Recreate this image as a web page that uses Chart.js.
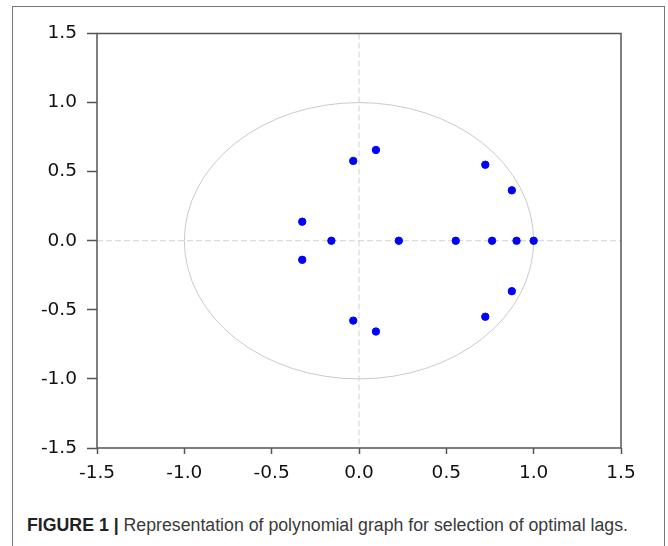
<!DOCTYPE html>
<html>
<head>
<meta charset="utf-8">
<script src="https://cdn.jsdelivr.net/npm/chart.js@4"></script>
<style>
  html, body { margin: 0; padding: 0; background: #fff; }
  body { width: 668px; height: 546px; position: relative; overflow: hidden; }
  #frame {
    position: absolute; left: 12px; top: 6px; width: 653px; height: 560px;
    border: 1.5px solid #777; box-sizing: border-box;
  }
  #wrap { position: absolute; left: 0; top: 0; width: 668px; height: 490px; }
  #caption {
    position: absolute; left: 27px; top: 514px; white-space: nowrap;
    font-family: "Liberation Sans Narrow", "Liberation Sans", Arial, sans-serif;
    font-size: 18px; line-height: 22px; color: #3a3a3a; transform-origin: 0 0;
  }
  #caption b { color: #222; }
</style>
</head>
<body>
<div id="frame"></div>
<div id="wrap"><canvas id="myChart"></canvas></div>
<div id="caption"><b>FIGURE 1 |</b> Representation of polynomial graph for selection of optimal lags.</div>

<script>
// roots of the characteristic polynomial (real part, imaginary part)
var rootRe = [0.097, 0.097, -0.033, -0.033, 0.723, 0.723, 0.875, 0.875, -0.325, -0.325,
              -0.158, 0.228, 0.554, 0.762, 0.902, 1.0];
var rootIm = [0.657, -0.657, 0.578, -0.578, 0.55, -0.55, 0.365, -0.365, 0.138, -0.138,
              0, 0, 0, 0, 0, 0];

var axisTicks = [-1.5, -1.0, -0.5, 0.0, 0.5, 1.0, 1.5];

function init() {
  fitCaption();
  getChart();
}

function fitCaption() {
  var cap = document.getElementById('caption');
  var w = cap.getBoundingClientRect().width;
  cap.style.transform = 'scaleX(' + (601 / w) + ')';
}

function getPoints() {
  var pts = [];
  for (var i = 0; i < rootRe.length; i++) {
    pts.push({ x: rootRe[i], y: rootIm[i] });
  }
  return pts;
}

// unit circle, zero lines and plot box drawn with the chart scales
var unitCircle = {
  id: 'unitCircle',
  beforeDatasetsDraw: function (chart) {
    var ctx = chart.ctx;
    var a = chart.chartArea;
    var xs = chart.scales.x;
    var ys = chart.scales.y;
    var cx = xs.getPixelForValue(0);
    var cy = ys.getPixelForValue(0);
    var rx = xs.getPixelForValue(1) - cx;
    var ry = cy - ys.getPixelForValue(1);

    ctx.save();
    ctx.strokeStyle = '#d2d2d2';
    ctx.lineWidth = 1;
    ctx.setLineDash([6, 3]);
    ctx.beginPath();
    ctx.moveTo(cx, a.top);
    ctx.lineTo(cx, a.bottom);
    ctx.moveTo(a.left, cy);
    ctx.lineTo(a.right, cy);
    ctx.stroke();

    ctx.setLineDash([]);
    ctx.strokeStyle = '#cacaca';
    ctx.beginPath();
    ctx.ellipse(cx, cy, rx, ry, 0, 0, Math.PI * 2);
    ctx.stroke();
    ctx.restore();
  },
  afterDraw: function (chart) {
    var ctx = chart.ctx;
    var a = chart.chartArea;
    ctx.save();
    ctx.strokeStyle = '#555';
    ctx.lineWidth = 1.5;
    ctx.strokeRect(a.left, a.top, a.right - a.left, a.bottom - a.top);
    ctx.restore();
  }
};

function getChart() {
  var ctx = document.getElementById('myChart').getContext('2d');
  var tickFont = { family: 'DejaVu Sans', size: 18.5 };
  var chart = new Chart(ctx, {
    type: 'scatter',
    data: {
      datasets: [{
        label: 'Roots',
        data: getPoints(),
        backgroundColor: '#0000ff',
        borderColor: '#0000ff',
        pointRadius: 3.7,
        pointHoverRadius: 3.7
      }]
    },
    options: {
      responsive: true,
      maintainAspectRatio: false,
      animation: false,
      events: [],
      layout: { padding: { left: 0, right: 47, top: 33.5, bottom: 0 } },
      plugins: { legend: { display: false }, tooltip: { enabled: false } },
      scales: {
        x: {
          type: 'linear',
          min: -1.5,
          max: 1.5,
          afterBuildTicks: function (s) { s.ticks = axisTicks.map(function (v) { return { value: v }; }); },
          afterFit: function (s) { s.height = 42; },
          border: { display: false },
          grid: { drawOnChartArea: false, drawTicks: true, tickLength: 6, tickColor: '#555', tickWidth: 1.5 },
          ticks: {
            color: '#111', font: tickFont, padding: 8, maxRotation: 0, autoSkip: false,
            callback: function (v) { return Number(v).toFixed(1); }
          }
        },
        y: {
          type: 'linear',
          min: -1.5,
          max: 1.5,
          afterBuildTicks: function (s) { s.ticks = axisTicks.map(function (v) { return { value: v }; }); },
          afterFit: function (s) { s.width = 97; },
          border: { display: false },
          grid: { drawOnChartArea: false, drawTicks: true, tickLength: 10, tickColor: '#555', tickWidth: 1.5 },
          ticks: {
            color: '#111', font: tickFont, padding: 10, autoSkip: false,
            callback: function (v) { return Number(v).toFixed(1); }
          }
        }
      }
    },
    plugins: [unitCircle]
  });
}

init();
</script>
</body>
</html>
